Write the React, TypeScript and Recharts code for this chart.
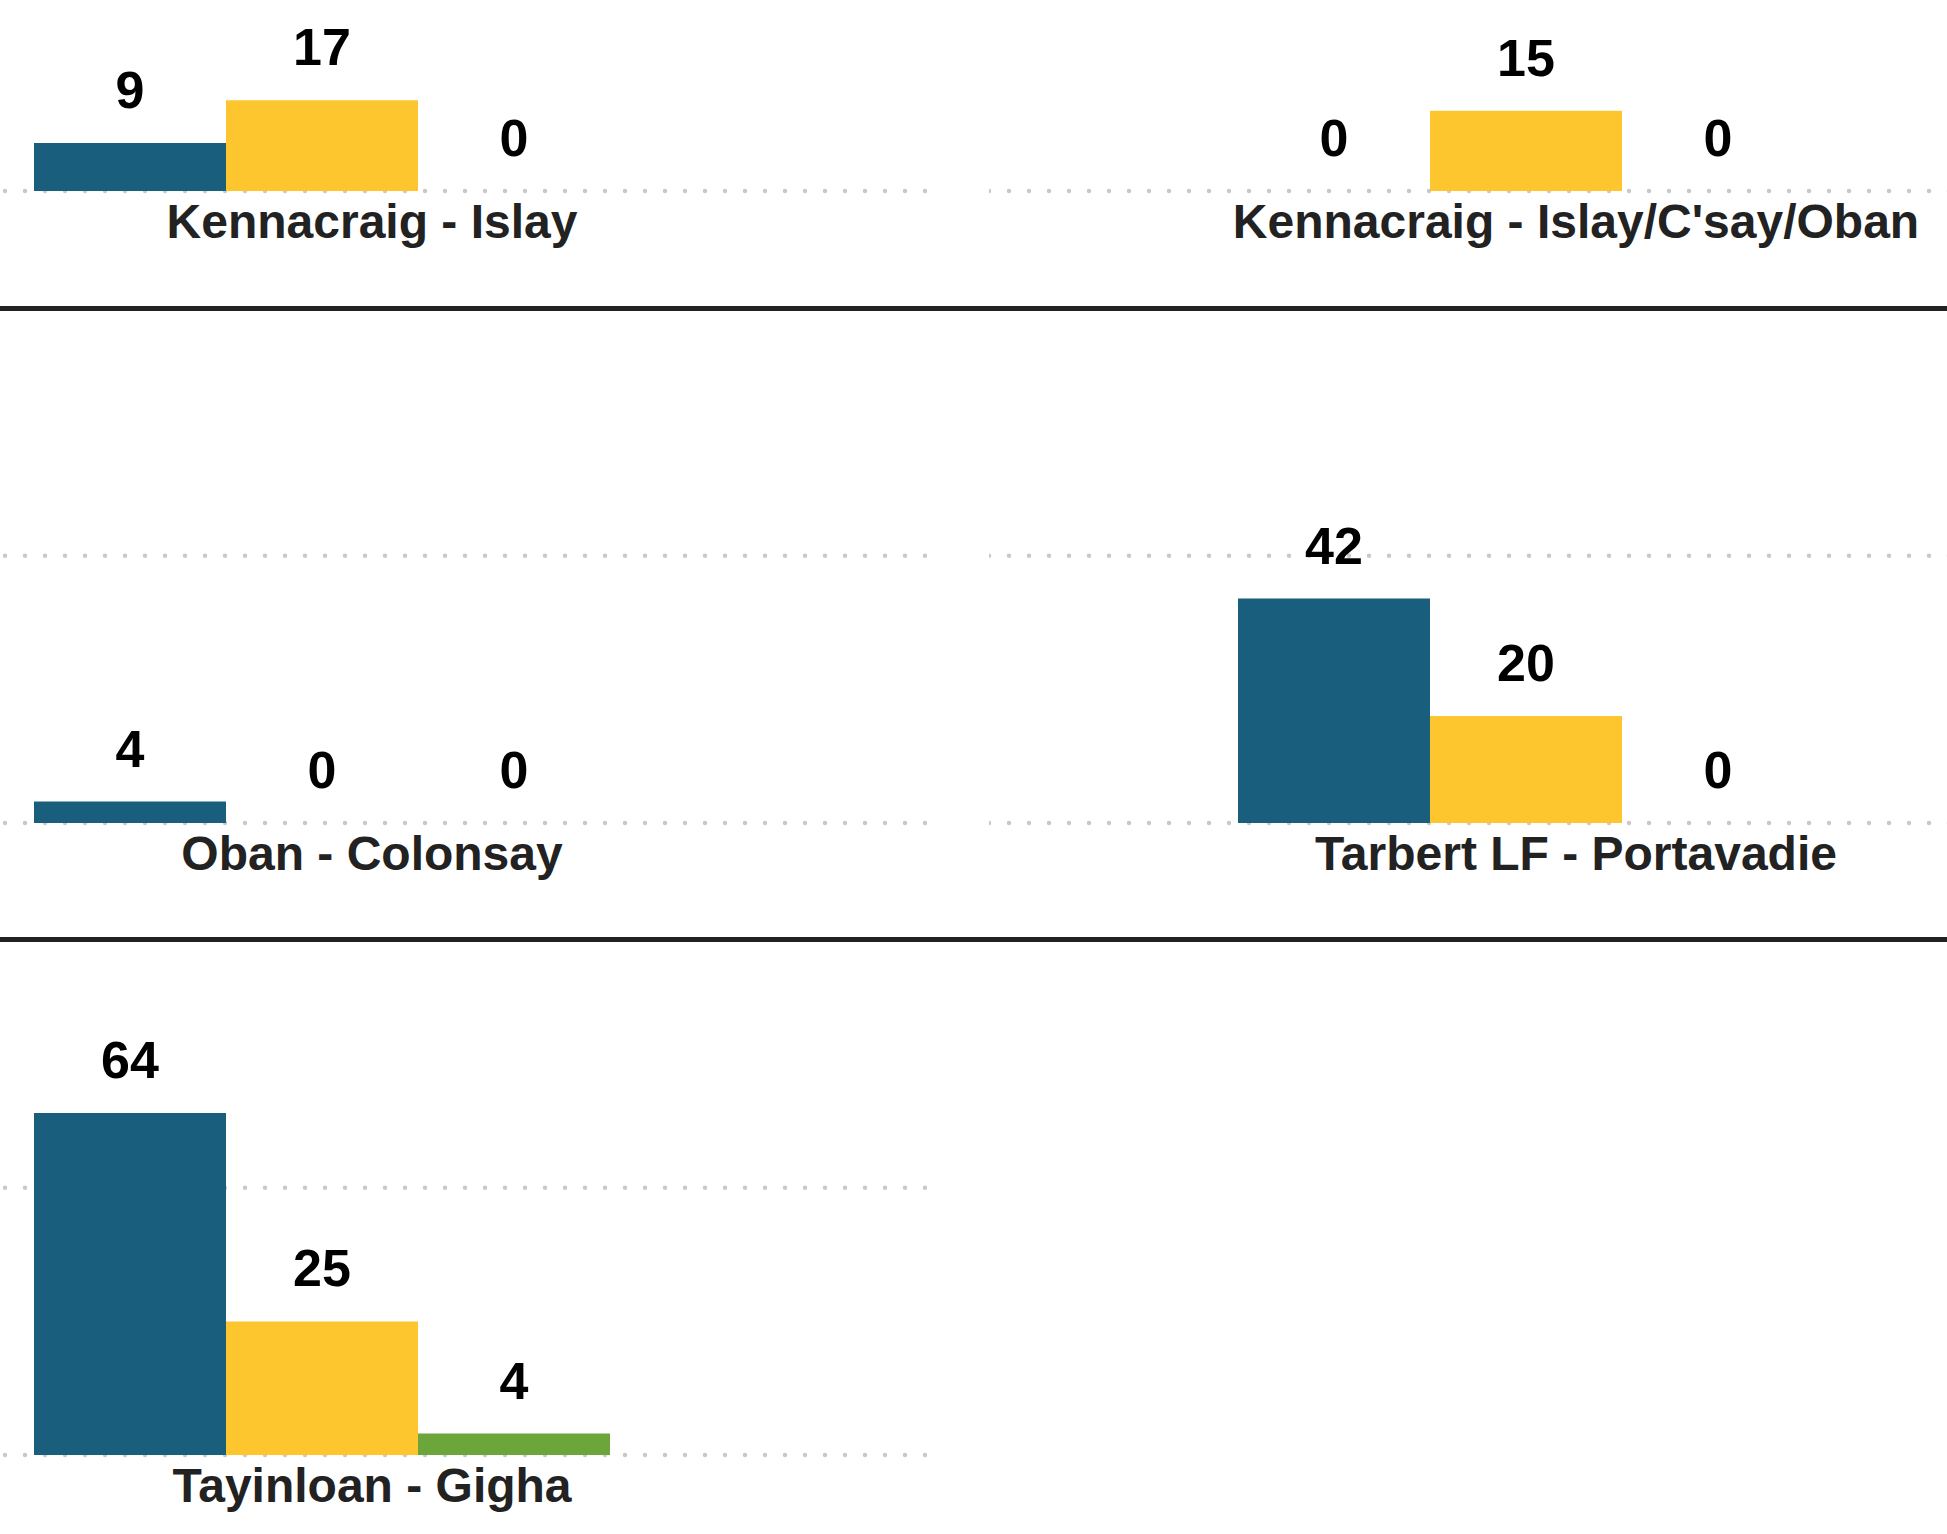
import { BarChart, Bar, XAxis, YAxis, CartesianGrid, LabelList } from "recharts";

// one small panel per route, three counts each
const routes = [
  "Kennacraig - Islay",
  "Kennacraig - Islay/C'say/Oban",
  "Oban - Colonsay",
  "Tarbert LF - Portavadie",
  "Tayinloan - Gigha",
];
const seriesA = [9, 0, 4, 42, 64];
const seriesB = [17, 15, 0, 20, 25];
const seriesC = [0, 0, 0, 0, 4];
const yTicks = [0, 50];

const colors = ["#195e7d", "#fec62e", "#6ca53a"];
const font = "'Liberation Sans', Arial, sans-serif";

const plotH = 481;
const axisH = 70;
const panelW = 1142;
const colLeft = [-215, 989];
const rowBase = [191, 823, 1455];

function RouteTick(props: any) {
  const { x, y, payload } = props;
  return (
    <text
      x={x + 50}
      y={y + 47}
      textAnchor="middle"
      fontSize={48}
      fontWeight="bold"
      fill="#222"
      fontFamily={font}
    >
      {payload.value}
    </text>
  );
}

function Panel({ i }: { i: number }) {
  const data = [{ route: routes[i], a: seriesA[i], b: seriesB[i], c: seriesC[i] }];
  const row = Math.floor(i / 2);
  const col = i % 2;
  const labelProps = {
    position: "top" as const,
    offset: 35,
    fill: "#000",
    fontSize: 52,
    fontWeight: "bold",
    fontFamily: font,
  };
  return (
    <div style={{ position: "absolute", left: colLeft[col], top: rowBase[row] - plotH }}>
      <BarChart
        width={panelW}
        height={plotH + axisH}
        data={data}
        margin={{ top: 0, right: 0, bottom: 0, left: 0 }}
        barCategoryGap={0}
        barGap={0}
      >
        <CartesianGrid
          vertical={false}
          syncWithTicks
          stroke="#c9c9c9"
          strokeWidth={4.5}
          strokeDasharray="0 20"
          strokeLinecap="round"
        />
        <XAxis
          dataKey="route"
          axisLine={false}
          tickLine={false}
          tickSize={0}
          tickMargin={0}
          height={axisH}
          interval={0}
          padding={{ left: 249, right: 317 }}
          tick={<RouteTick />}
        />
        <YAxis hide domain={[0, 90]} ticks={yTicks} />
        {/* tiny min size keeps zero bars (and their "0" labels) in the layout */}
        <Bar dataKey="a" fill={colors[0]} minPointSize={0.01} isAnimationActive={false}>
          <LabelList dataKey="a" {...labelProps} />
        </Bar>
        <Bar dataKey="b" fill={colors[1]} minPointSize={0.01} isAnimationActive={false}>
          <LabelList dataKey="b" {...labelProps} />
        </Bar>
        <Bar dataKey="c" fill={colors[2]} minPointSize={0.01} isAnimationActive={false}>
          <LabelList dataKey="c" {...labelProps} />
        </Bar>
      </BarChart>
    </div>
  );
}

export default function App() {
  return (
    <div
      style={{
        position: "relative",
        width: 1947,
        height: 1534,
        overflow: "hidden",
        background: "#fff",
      }}
    >
      <style>{`body{margin:0}`}</style>
      {routes.map((r, i) => (
        <Panel key={r} i={i} />
      ))}
      <div style={{ position: "absolute", left: 0, top: 306, width: 1947, height: 5, background: "#222" }} />
      <div style={{ position: "absolute", left: 0, top: 937, width: 1947, height: 5, background: "#222" }} />
    </div>
  );
}
